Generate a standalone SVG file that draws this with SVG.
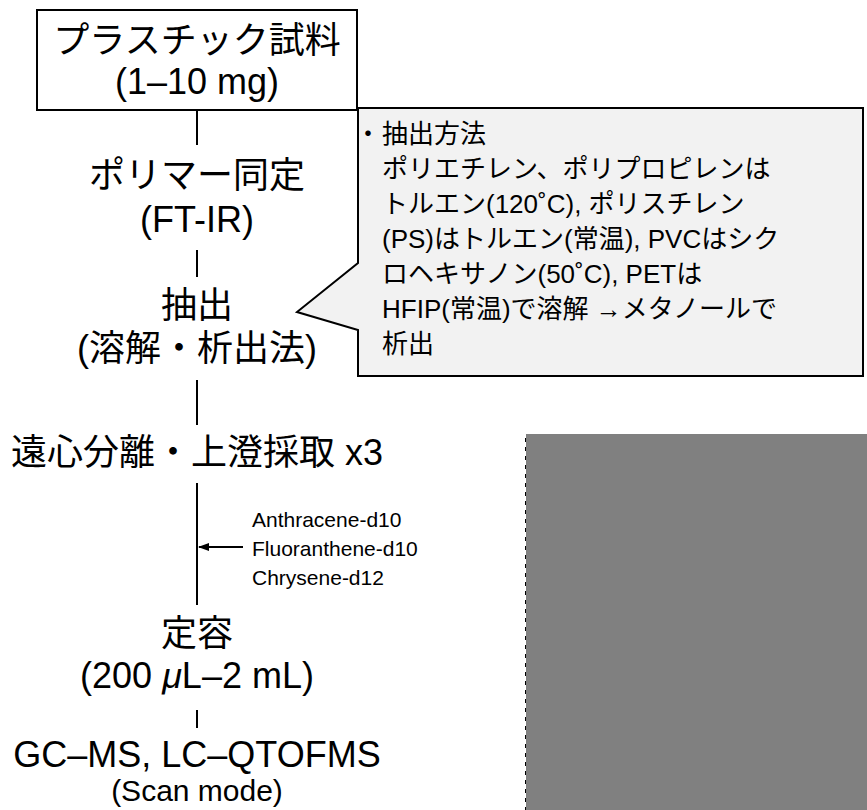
<svg xmlns="http://www.w3.org/2000/svg" width="867" height="810" viewBox="0 0 867 810">
<style>
.t{font-family:"Liberation Sans","Noto Sans CJK JP",sans-serif;fill:#000;}
.m{font-size:36px;text-anchor:middle;}
.c{font-size:26px;}
.s{font-size:21px;}
.ln{stroke:#000;stroke-width:2;fill:none;}
</style>
<defs>
<marker id="ah" markerWidth="11" markerHeight="8" refX="10" refY="4" orient="auto" markerUnits="userSpaceOnUse">
<path d="M0,0 L11,4 L0,8 Z" fill="#000"/>
</marker>
</defs>
<rect width="867" height="810" fill="#fff"/>
<g id="connectors">
<line class="ln" x1="197" y1="110" x2="197" y2="145"/>
<line class="ln" x1="197" y1="250" x2="197" y2="277"/>
<line class="ln" x1="197" y1="380" x2="197" y2="425"/>
<line class="ln" x1="197" y1="483" x2="197" y2="605"/>
<line class="ln" x1="197" y1="710" x2="197" y2="728"/>
<line class="ln" x1="243" y1="547" x2="199" y2="547" marker-end="url(#ah)"/>
</g>
<g id="sample">
<rect x="37" y="10" width="320" height="100" fill="#fff" stroke="#000" stroke-width="2"/>
<text class="t m" x="197" y="53">プラスチック試料</text>
<text class="t m" x="197" y="94">(1–10 mg)</text>
</g>
<g id="polymer-id">
<text class="t m" x="197" y="188">ポリマー同定</text>
<text class="t m" x="197" y="232">(FT-IR)</text>
</g>
<g id="extraction">
<text class="t m" x="197" y="318">抽出</text>
<text class="t m" x="197" y="361">(溶解・析出法)</text>
</g>
<g id="centrifuge">
<text class="t m" x="197" y="465">遠心分離・上澄採取 x3</text>
</g>
<g id="standards">
<text class="t s" x="252" y="527">Anthracene-d10</text>
<text class="t s" x="252" y="556">Fluoranthene-d10</text>
<text class="t s" x="252" y="585">Chrysene-d12</text>
</g>
<g id="volume">
<text class="t m" x="197" y="646">定容</text>
<text class="t m" x="197" y="688">(200 <tspan font-style="italic">μ</tspan>L–2 mL)</text>
</g>
<g id="analysis">
<text class="t m" x="197" y="767" font-size="35">GC–MS, LC–QTOFMS</text>
<text class="t" x="197" y="801" font-size="30" text-anchor="middle">(Scan mode)</text>
</g>
<g id="callout">
<path d="M358,108 H863 V376 H358 V330 L297,312 L358,263 Z" fill="#f2f2f2" stroke="#000" stroke-width="2"/>
<text class="t c" x="355" y="143">・</text>
<text class="t c" x="382" y="143">抽出方法</text>
<text class="t c" x="382" y="178">ポリエチレン、ポリプロピレンは</text>
<text class="t c" x="382" y="213">トルエン(120˚C), ポリスチレン</text>
<text class="t c" x="382" y="248">(PS)はトルエン(常温), PVCはシク</text>
<text class="t c" x="382" y="283">ロヘキサノン(50˚C), PETは</text>
<text class="t c" x="382" y="318">HFIP(常温)で溶解 →メタノールで</text>
<text class="t c" x="382" y="353">析出</text>
</g>
<g id="image-placeholder">
<rect x="526" y="434" width="341" height="376" fill="#808080"/>
<line x1="525.5" y1="438" x2="525.5" y2="810" stroke="#000" stroke-width="1" stroke-dasharray="4 5"/>
</g>
</svg>
